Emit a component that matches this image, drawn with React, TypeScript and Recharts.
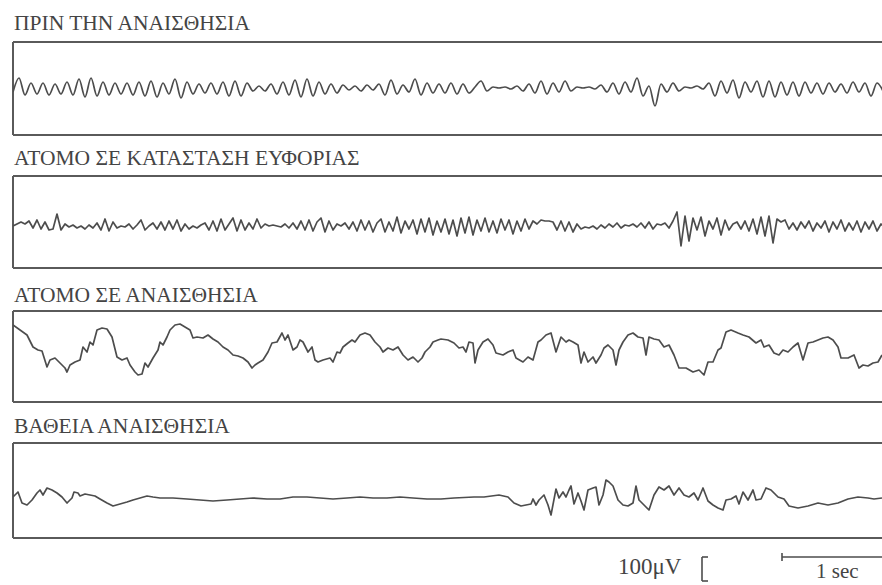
import React from "react";
import { LineChart, Line, XAxis, YAxis, ReferenceLine } from "recharts";

// ---------- text ----------
const panelTitles = [
  "ΠΡΙΝ ΤΗΝ ΑΝΑΙΣΘΗΣΙΑ",
  "ΑΤΟΜΟ ΣΕ ΚΑΤΑΣΤΑΣΗ ΕΥΦΟΡΙΑΣ",
  "ΑΤΟΜΟ ΣΕ ΑΝΑΙΣΘΗΣΙΑ",
  "ΒΑΘΕΙΑ ΑΝΑΙΣΘΗΣΙΑ",
];
const voltageLabel = "100μV";
const timeLabel = "1 sec";

// ---------- data (amplitude in µV, time in s) ----------
// before anaesthesia: sampled every 0.06 s
const awakeDt = 0.06;
const awakeUv = [
  -16, 40, -28, 20, -24, 20, -28, 16, -24, 24,
  -28, 36, -36, 40, -32, 24, -28, 20, -24, 20,
  -28, 24, -32, 28, -36, 20, -24, 36, -40, 24,
  -24, 16, -20, 20, -24, 24, -32, 28, -32, 20,
  -12, 8, -12, 16, -24, 24, -28, 32, -36, 36,
  -32, 24, -24, 16, -20, 12, -8, 8, -12, 12,
  -8, 16, -28, 32, -24, 12, -16, 36, -28, 20,
  -20, 16, -20, 20, -24, 16, -20, 4, 28, -12,
  4, 0, 4, -4, 8, -12, 16, -20, 28, -24,
  20, -16, 28, -12, 4, 0, 4, -4, 12, -16,
  20, -24, 24, -16, 40, -32, 8, -72, 16, -16,
  20, -12, 4, 0, 8, -4, 20, -32, 28, -20,
  32, -40, 24, -16, 28, -36, 28, -36, 24, -28,
  24, -32, 24, -20, 20, -24, 20, -16, 16, -20,
  24, -16, 20, -32, 20, -12,
];

// euphoria: sampled every 0.04 s
const euphoriaDt = 0.04;
const euphoriaUv = [
  0, 8, 16, 8, 20, -8, 24, -12, 16, -16,
  -12, 48, -16, 8, -4, 4, -8, 0, -12, 4,
  -8, 12, -16, 28, -20, 16, -8, 0, -4, 8,
  -12, 4, 24, -16, 0, 12, -12, 16, -16, 20,
  -12, 24, -20, 8, -12, 0, -8, 4, 12, -16,
  20, -20, 28, -16, 8, 32, -20, 24, -16, 12,
  -12, 28, -8, 8, 0, 4, 0, -4, 8, -8,
  12, -12, 20, -16, 24, -20, 16, 32, -24, 20,
  -16, 8, 0, 12, -12, 16, -20, 24, -16, 20,
  -24, 12, 28, -24, 16, -20, 36, -28, 20, -12,
  24, -32, 28, -24, 32, -36, 20, -24, 28, -32,
  24, -40, 32, -28, 36, -36, 24, -20, 32, -24,
  20, -28, 28, -16, 24, -32, 20, -20, 28, -12,
  20, 8, 24, 20, 20, 16, -16, 20, -20, 16,
  -24, 8, -12, -4, -8, 0, -12, 4, -8, 8,
  -4, 12, -8, 4, 0, 8, -4, 12, -8, 16,
  -12, 8, 4, 12, -8, 20, 56, -80, 40, -60,
  32, -16, 36, -40, 20, -12, 32, -36, 24, -16,
  8, 16, -12, 20, -20, 28, -32, 36, -40, 40,
  -68, 28, 16, 24, -12, 12, -16, 16, -8, 20,
  -20, 12, -8, 20, -24, 16, -12, 24, -20, 12,
  -16, 20, -24, 16, -12, 20, -20, 8, -8,
];

// anaesthesia: [time s, µV]
const anaesthesiaPts: [number, number][] = [
  [0.0, 100], [0.14, 60], [0.2, 12], [0.25, 0], [0.29, -4], [0.34, -68], [0.37, -40],
  [0.42, -32], [0.47, -52], [0.52, -72], [0.54, -88], [0.57, -60], [0.62, -48], [0.67, -40],
  [0.7, 12], [0.74, -8], [0.77, 32], [0.8, 20], [0.84, 80], [0.89, 88], [0.94, 84],
  [0.99, 52], [1.04, -28], [1.09, -40], [1.14, -32], [1.17, -60], [1.22, -88], [1.25, -100],
  [1.29, -96], [1.32, -52], [1.35, -68], [1.4, -32], [1.45, 0], [1.47, 32], [1.5, 20],
  [1.54, 52], [1.57, 80], [1.62, 100], [1.67, 104], [1.72, 92], [1.77, 80], [1.8, 48],
  [1.84, 52], [1.9, 48], [1.95, 60], [2.0, 44], [2.05, 32], [2.1, 12], [2.15, 0],
  [2.2, -20], [2.25, -24], [2.3, -32], [2.35, -48], [2.39, -72], [2.42, -60], [2.45, -52],
  [2.5, -40], [2.55, -8], [2.59, 28], [2.64, 32], [2.69, 68], [2.72, 40], [2.75, 60],
  [2.8, 0], [2.84, 12], [2.87, 40], [2.9, 32], [2.95, -8], [2.99, 12], [3.02, -40],
  [3.05, -48], [3.1, -40], [3.17, -32], [3.2, -48], [3.24, -8], [3.27, -12], [3.3, 12],
  [3.35, 28], [3.39, 40], [3.42, 32], [3.47, 60], [3.52, 68], [3.57, 60], [3.62, 32],
  [3.67, 12], [3.7, -8], [3.75, 8], [3.8, 0], [3.85, 12], [3.9, -20], [3.95, -40],
  [4.0, -28], [4.05, -48], [4.09, -32], [4.12, -8], [4.17, 12], [4.2, 32], [4.25, 40],
  [4.28, 44], [4.35, 40], [4.41, 28], [4.46, 8], [4.5, 12], [4.53, -8], [4.56, 32],
  [4.6, 28], [4.62, -52], [4.65, 0], [4.7, 32], [4.75, 44], [4.8, 20], [4.83, -12],
  [4.9, -20], [4.95, -8], [5.0, 0], [5.03, -32], [5.1, -48], [5.15, -28], [5.2, -40],
  [5.25, 32], [5.28, 40], [5.33, 60], [5.38, 68], [5.43, -8], [5.48, 52], [5.53, 32],
  [5.56, 40], [5.6, 32], [5.65, 20], [5.68, -52], [5.71, -8], [5.75, -48], [5.8, -28],
  [5.83, -52], [5.88, -20], [5.91, 8], [5.95, 20], [6.0, 0], [6.03, -60], [6.06, 0],
  [6.1, 32], [6.15, 60], [6.2, 68], [6.25, 52], [6.3, 48], [6.33, -20], [6.36, 52],
  [6.41, 44], [6.46, 40], [6.51, 12], [6.56, 20], [6.61, -20], [6.66, -72], [6.73, -72],
  [6.8, -88], [6.86, -80], [6.91, -100], [6.95, -48], [7.0, -48], [7.05, 0], [7.08, 8],
  [7.13, 72], [7.18, 80], [7.25, 68], [7.3, 60], [7.36, 52], [7.43, 28], [7.48, 40],
  [7.51, 12], [7.56, 20], [7.61, -12], [7.66, -20], [7.7, 0], [7.75, -8], [7.8, 12],
  [7.85, 28], [7.9, -40], [7.95, 28], [8.0, 32], [8.05, 40], [8.1, 48], [8.15, 52],
  [8.2, 40], [8.25, 12], [8.28, -32], [8.35, -32], [8.41, -20], [8.46, -72], [8.5, -60],
  [8.55, -64], [8.6, -52], [8.65, -48], [8.69, -20],
];

// deep anaesthesia: [time s, µV]
const deepPts: [number, number][] = [
  [0.0, 4], [0.02, 12], [0.05, 24], [0.09, -20], [0.14, -28], [0.19, -8], [0.24, 20],
  [0.27, 32], [0.3, 12], [0.34, 40], [0.39, 32], [0.44, 20], [0.49, 4], [0.54, -20],
  [0.59, 0], [0.61, 24], [0.65, 20], [0.67, 8], [0.72, 16], [0.77, 12], [0.82, 8],
  [0.87, -4], [0.94, -20], [1.0, -32], [1.07, -24], [1.14, -16], [1.2, -8], [1.27, 0],
  [1.34, 8], [1.4, 4], [1.47, 0], [1.6, 0], [1.74, -4], [1.87, -8], [2.0, -12],
  [2.14, -8], [2.27, -4], [2.4, 0], [2.54, -4], [2.67, -4], [2.8, 4], [2.94, 4],
  [3.07, 0], [3.2, -4], [3.34, 0], [3.47, 4], [3.6, 0], [3.74, 0], [3.87, 4],
  [4.0, 0], [4.14, -4], [4.28, -4], [4.41, 0], [4.61, 4], [4.71, 4], [4.86, 12],
  [4.95, 4], [5.01, -20], [5.08, -32], [5.13, -28], [5.18, -24], [5.2, -4], [5.23, -28],
  [5.26, -8], [5.31, 12], [5.35, -28], [5.38, -68], [5.43, 36], [5.46, 0], [5.5, 24],
  [5.53, 4], [5.56, 32], [5.58, 48], [5.61, -24], [5.65, 20], [5.68, -12], [5.71, -48],
  [5.75, 32], [5.8, 40], [5.83, 44], [5.86, -28], [5.9, 12], [5.93, 72], [5.96, 64],
  [6.0, 48], [6.05, -8], [6.1, -28], [6.15, -32], [6.2, -20], [6.23, 48], [6.26, -8],
  [6.31, -28], [6.36, -48], [6.41, 12], [6.46, 44], [6.51, 32], [6.56, 48], [6.61, 12],
  [6.66, 40], [6.71, 12], [6.76, 4], [6.81, 20], [6.85, -8], [6.9, 40], [6.95, -12],
  [7.0, -28], [7.05, -40], [7.1, -48], [7.13, -8], [7.18, -4], [7.23, 8], [7.26, -24],
  [7.3, 24], [7.35, -8], [7.4, 32], [7.43, -8], [7.48, -4], [7.53, 40], [7.58, 32],
  [7.65, 4], [7.71, -4], [7.76, -32], [7.85, -40], [7.95, -32], [8.05, -20], [8.15, -28],
  [8.25, -20], [8.35, -4], [8.45, 4], [8.55, 0], [8.61, -4], [8.69, 0],
];

// ---------- layout / style ----------
const W = 882;
const H = 585;
const LEFT = 13;
const SPAN = 8.69; // seconds visible
const UV_PER_PX = 4;
const INK = "#4d4d4d";
const BOX = "#5a5a5a";
const TEXT = "#444444";
const FONT = "Liberation Serif, Times New Roman, serif";

type Pt = { t: number; v: number };

const seriesList: { data: Pt[]; curve: "monotone" | "linear" }[] = [
  { data: awakeUv.map((v, i) => ({ t: i * awakeDt, v })), curve: "monotone" },
  { data: euphoriaUv.map((v, i) => ({ t: i * euphoriaDt, v })), curve: "linear" },
  { data: anaesthesiaPts.map(([t, v]) => ({ t, v })), curve: "linear" },
  { data: deepPts.map(([t, v]) => ({ t, v })), curve: "linear" },
];

const boxes = [
  { top: 42, bottom: 135, center: 88, titleY: 30 },
  { top: 176, bottom: 268, center: 226, titleY: 165 },
  { top: 311, bottom: 402, center: 350, titleY: 302 },
  { top: 443, bottom: 538, center: 498, titleY: 433 },
];

function Panel({ data, curve, top, bottom, center }: { data: Pt[]; curve: "monotone" | "linear"; top: number; bottom: number; center: number }) {
  const h = bottom - top;
  const hi = (center - top) * UV_PER_PX;
  const lo = (center - bottom) * UV_PER_PX;
  return (
    <div style={{ position: "absolute", left: 0, top: top - 2 }}>
      <LineChart width={W} height={h + 4} data={data} margin={{ top: 2, right: 0, bottom: 2, left: LEFT }}>
        <XAxis xAxisId="b" type="number" dataKey="t" domain={[0, SPAN]} allowDataOverflow hide />
        <YAxis yAxisId="y" type="number" domain={[lo, hi]} allowDataOverflow hide />
        <ReferenceLine xAxisId="b" yAxisId="y" y={hi} stroke={BOX} strokeWidth={2} ifOverflow="visible" />
        <ReferenceLine xAxisId="b" yAxisId="y" y={lo} stroke={BOX} strokeWidth={2} ifOverflow="visible" />
        <ReferenceLine xAxisId="b" yAxisId="y" x={0} stroke={BOX} strokeWidth={2} ifOverflow="visible" />
        <Line xAxisId="b" yAxisId="y" dataKey="v" type={curve} stroke={INK} strokeWidth={1.7} dot={false} isAnimationActive={false} strokeLinejoin="round" />
      </LineChart>
    </div>
  );
}

export default function App() {
  return (
    <div style={{ position: "absolute", left: 0, top: 0, width: W, height: H, overflow: "hidden", background: "#fff" }}>
      {seriesList.map((s, i) => (
        <Panel key={i} data={s.data} curve={s.curve} top={boxes[i].top} bottom={boxes[i].bottom} center={boxes[i].center} />
      ))}
      <svg width={W} height={H} style={{ position: "absolute", left: 0, top: 0, pointerEvents: "none" }}>
        {panelTitles.map((t, i) => (
          <text key={i} x={14} y={boxes[i].titleY} fontFamily={FONT} fontSize={21.5} fill={TEXT}>
            {t}
          </text>
        ))}
        <text x={618} y={574} fontFamily={FONT} fontSize={23} fill={TEXT}>{voltageLabel}</text>
        <g stroke={INK} strokeWidth={1.6} fill="none">
          <line x1={702} y1={557} x2={702} y2={581} />
          <line x1={702} y1={557} x2={708} y2={557} />
          <line x1={702} y1={581} x2={708} y2={581} />
          <line x1={782} y1={557} x2={882} y2={557} />
          <line x1={782} y1={553} x2={782} y2={561} />
        </g>
        <text x={816} y={578} fontFamily={FONT} fontSize={21} fill={TEXT}>{timeLabel}</text>
      </svg>
    </div>
  );
}
